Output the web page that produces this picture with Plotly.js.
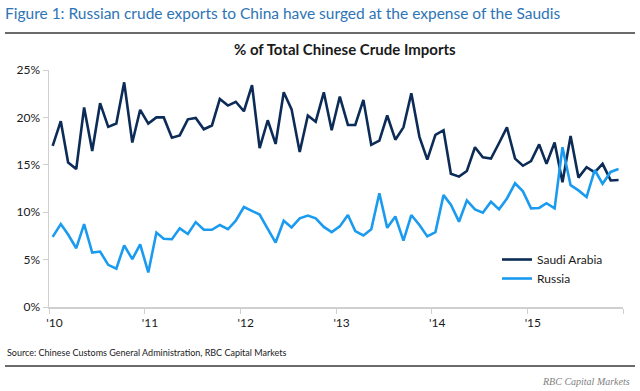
<!DOCTYPE html>
<html>
<head>
<meta charset="utf-8">
<script src="https://cdn.plot.ly/plotly-3.0.1.min.js"></script>
<style>html,body{margin:0;padding:0;background:#fff;}#chart{width:640px;height:391px;}</style>
</head>
<body>
<div id="chart"></div>
<script>
const years = [2010, 2011, 2012, 2013, 2014, 2015];
const yearTickLabels = ["'10", "'11", "'12", "'13", "'14", "'15", ""];
const yTickValues = [0, 5, 10, 15, 20, 25];
const yTickLabels = ['0%', '5%', '10%', '15%', '20%', '25%'];
const saudiArabia = [
  17.0, 19.6, 15.25, 14.55, 21.05, 16.45, 21.5, 19.0, 19.35, 23.7, 17.35, 20.8,
  19.35, 20.0, 20.0, 17.85, 18.1, 19.8, 19.95, 18.75, 19.15, 21.95, 21.25, 21.65,
  20.65, 23.4, 16.75, 19.7, 17.2, 22.65, 20.85, 16.35, 20.2, 19.55, 22.65, 18.65,
  22.2, 19.2, 19.2, 21.85, 17.1, 17.55, 20.2, 17.65, 18.95, 22.55, 17.95, 15.55,
  18.15, 18.65, 14.05, 13.75, 14.35, 16.85, 15.8, 15.65, 17.3, 18.95, 15.65, 14.9,
  15.4, 17.15, 15.1, 17.35, 13.15, 18.05, 13.65, 14.75, 14.2, 15.1, 13.35, 13.4
];
const russia = [
  7.4, 8.75, 7.65, 6.2, 8.75, 5.75, 5.85, 4.45, 4.05, 6.5, 5.05, 6.6,
  3.65, 7.85, 7.2, 7.15, 8.3, 7.7, 8.95, 8.15, 8.15, 8.65, 8.2, 9.1,
  10.55, 10.1, 9.75, 8.25, 6.8, 9.1, 8.4, 9.35, 9.65, 9.35, 8.45, 7.9,
  8.5, 9.7, 8.0, 7.55, 8.2, 12.0, 8.35, 9.55, 7.0, 9.7, 8.65, 7.45,
  7.9, 11.8, 10.8, 9.0, 11.25, 10.3, 9.95, 11.1, 10.3, 11.45, 13.05, 12.2,
  10.4, 10.45, 10.95, 10.4, 16.85, 12.85, 12.3, 11.6, 14.45, 13.0, 14.25, 14.55
];

// month categories (mid-month dates) and yearly tick positions
const months = [];
years.forEach(y => { for (let m = 1; m <= 12; m++) months.push(y + '-' + String(m).padStart(2, '0') + '-15'); });
const yearTicks = years.map(y => y + '-01-01').concat([(years[years.length - 1] + 1) + '-01-01']);

const FONT = 'Lato, "Open Sans", sans-serif';
const L = 49, R = 17, T = 70, B = 84;
const W = 640, H = 391;
const pw = W - L - R, ph = H - T - B;
const px = x => (x - L) / pw;
const py = y => (H - B - y) / ph;

const traces = [
  {x: months, y: saudiArabia, name: 'Saudi Arabia', type: 'scatter', mode: 'lines',
   line: {color: '#0c2c57', width: 2.6}},
  {x: months, y: russia, name: 'Russia', type: 'scatter', mode: 'lines',
   line: {color: '#1b9bf0', width: 2.6}}
];

const layout = {
  width: W, height: H,
  margin: {l: L, r: R, t: T, b: B, pad: 0},
  paper_bgcolor: '#fff', plot_bgcolor: '#fff',
  font: {family: FONT, color: '#1a1a1a', size: 12},
  title: {text: 'Figure 1: Russian crude exports to China have surged at the expense of the Saudis',
          xref: 'container', yref: 'container', x: 5 / W, xanchor: 'left', y: 1 - 14 / H, yanchor: 'middle',
          font: {family: FONT, size: 15.5, color: '#2e74b5'}},
  showlegend: true,
  legend: {x: px(497), xanchor: 'left', y: py(245), yanchor: 'top', bgcolor: 'rgba(0,0,0,0)',
           font: {family: FONT, size: 12, color: '#1a1a1a'}, itemwidth: 30, tracegroupgap: 0},
  xaxis: {type: 'date', range: ['2010-01-01', '2016-01-01'], tickmode: 'array', tickvals: yearTicks,
          ticktext: yearTickLabels, ticks: 'outside', ticklen: 5, tickcolor: '#d0d0d0', tickwidth: 1,
          showline: true, linecolor: '#d0d0d0', linewidth: 1.5, showgrid: false, zeroline: false,
          ticklabelposition: 'outside right', ticklabelshift: -4, ticklabelstandoff: 4,
          tickfont: {family: FONT, size: 12, color: '#1a1a1a'}, fixedrange: true},
  yaxis: {range: [0, 25], tickmode: 'array', tickvals: yTickValues, ticktext: yTickLabels, ticks: 'outside', ticklen: 5,
          tickcolor: '#d0d0d0', tickwidth: 1, showline: true, linecolor: '#d0d0d0', linewidth: 1.5,
          showgrid: false, zeroline: false, tickfont: {family: FONT, size: 12, color: '#1a1a1a'}, fixedrange: true},
  shapes: [
    {type: 'line', xref: 'paper', yref: 'paper', x0: px(5), x1: px(635), y0: py(33), y1: py(33),
     line: {color: '#6b6b6b', width: 2}},
    {type: 'line', xref: 'paper', yref: 'paper', x0: px(5), x1: px(635), y0: py(366), y1: py(366),
     line: {color: '#6b6b6b', width: 2}}
  ],
  annotations: [
    {text: '<b>% of Total Chinese Crude Imports</b>', xref: 'paper', yref: 'paper', x: px(345), y: py(49),
     xanchor: 'center', yanchor: 'middle', showarrow: false, font: {family: FONT, size: 15, color: '#1a1a1a'}},
    {text: 'Source: Chinese Customs General Administration, RBC Capital Markets', xref: 'paper', yref: 'paper',
     x: px(5), y: py(352), xanchor: 'left', yanchor: 'middle', showarrow: false,
     font: {family: FONT, size: 9, color: '#1a1a1a'}},
    {text: '<i>RBC Capital Markets</i>', xref: 'paper', yref: 'paper', x: px(632), y: py(381),
     xanchor: 'right', yanchor: 'middle', showarrow: false,
     font: {family: '"Liberation Serif", "DejaVu Serif", serif', size: 10, color: '#808080'}}
  ]
};

Plotly.newPlot('chart', traces, layout, {staticPlot: true, displayModeBar: false});
</script>
</body>
</html>
